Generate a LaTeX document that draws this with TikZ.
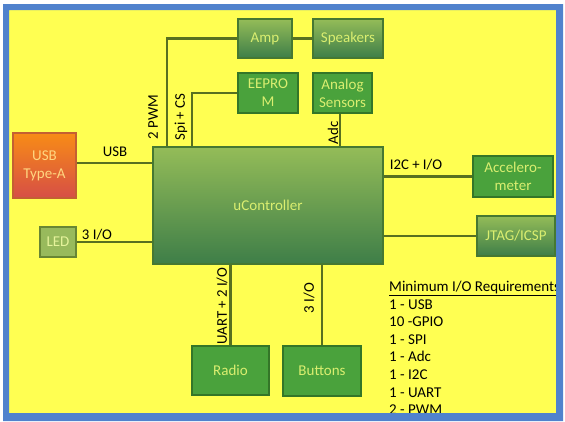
\documentclass[tikz,border=0pt]{standalone}
\usepackage{fontspec}
\setmainfont{Carlito}
\usetikzlibrary{shadings}
\definecolor{bgyellow}{RGB}{255,255,82}
\definecolor{frameblue}{RGB}{80,130,205}
\definecolor{wirecol}{RGB}{88,112,32}
\definecolor{solidgreen}{RGB}{74,162,60}
\definecolor{solidedge}{RGB}{52,118,40}
\definecolor{gradtop}{RGB}{148,188,88}
\definecolor{gradbot}{RGB}{62,126,72}
\definecolor{gradedge}{RGB}{70,120,50}
\definecolor{boxtext}{RGB}{218,238,112}
\definecolor{ledfill}{RGB}{152,186,92}
\definecolor{ledede}{RGB}{104,134,52}
\definecolor{usbtop}{RGB}{248,140,22}
\definecolor{usbbot}{RGB}{214,78,70}
\definecolor{usbedge}{RGB}{196,96,50}
\definecolor{usbtext}{RGB}{255,214,128}
\begin{document}
\begin{tikzpicture}[x=1pt,y=-1pt,
  box/.style={line width=1.2pt, align=center, text=boxtext, inner sep=0pt,
    font=\fontsize{15}{17.8}\selectfont},
  solidbox/.style={box, draw=solidedge, fill=solidgreen},
  gradbox/.style={box, draw=gradedge, top color=gradtop, bottom color=gradbot},
  wire/.style={draw=wirecol, line width=2.1pt},
  lbl/.style={font=\fontsize{14.8}{17}\selectfont, text=black, inner sep=0pt},
  req/.style={font=\fontsize{15}{17}\selectfont, text=black, inner sep=0pt, anchor=base west}]
\useasboundingbox (0,0) rectangle (565,421);
\fill[white] (0,0) rectangle (565,421);
\fill[bgyellow] (9,10) rectangle (556,413);

% boxes
\node[gradbox, minimum width=54pt, minimum height=39pt] (amp) at (265,38.5) {Amp};
\node[gradbox, minimum width=70pt, minimum height=39pt] (spk) at (348,38.5) {Speakers};
\node[solidbox, minimum width=60pt, minimum height=40pt] (eeprom) at (268,93) {EEPRO\\M};
\node[solidbox, minimum width=59pt, minimum height=40pt] (analog) at (342.5,93) {Analog\\Sensors};
\node[box, draw=usbedge, top color=usbtop, bottom color=usbbot, text=usbtext,
      minimum width=63pt, minimum height=65pt] (usb) at (44.5,165.5) {USB\\Type-A};
\node[box, draw=ledede, fill=ledfill, text=boxtext!70!white,
      minimum width=36pt, minimum height=30pt] (led) at (58,242) {LED};
\node[gradbox, minimum width=230pt, minimum height=117pt] (uc) at (268,205.5) {uController};
\node[solidbox, minimum width=80pt, minimum height=41pt] (accel) at (513,176.5) {Accelero-\\meter};
\node[gradbox, minimum width=78pt, minimum height=40pt] (jtag) at (516,236) {JTAG/ICSP};
\node[solidbox, minimum width=77pt, minimum height=49pt] (radio) at (230.5,370.5) {Radio};
\node[solidbox, minimum width=78pt, minimum height=50pt] (buttons) at (322,371) {Buttons};

% connectors
\coordinate (pwm) at (167,38.5);
\coordinate (spi) at (192,93);
\coordinate (adc) at (340,0);
\coordinate (usbw) at (0,163);
\draw[wire] (uc.north -| pwm) |- (amp.west);
\draw[wire] (amp.east) -- (spk.west);
\draw[wire] (uc.north -| spi) |- (eeprom.west);
\draw[wire] (analog.south -| adc) -- (uc.north -| adc);
\draw[wire] (usb.east |- usbw) -- (uc.west |- usbw);
\draw[wire] (led.east) -- (uc.west |- led.east);
\draw[wire] (uc.east |- accel.west) -- (accel.west);
\draw[wire] (uc.east |- jtag.west) -- (jtag.west);
\draw[wire] (uc.south -| radio.north) -- (radio.north);
\draw[wire] (uc.south -| buttons.north) -- (buttons.north);

% connector labels
\node[lbl] (lusb) at (115,152) {USB};
\node[lbl] (lled) at (97,235) {3 I/O};
\node[lbl] (li2c) at (416,165) {I2C + I/O};
\node[lbl, rotate=90] (lpwm) at (153,117) {2 PWM};
\node[lbl, rotate=90] (lspi) at (181,117) {Spi + CS};
\node[lbl, rotate=90] (ladc) at (333,133) {Adc};
\node[lbl, rotate=90] (luart) at (222,306) {UART + 2 I/O};
\node[lbl, rotate=90] (lbtn) at (309,298) {3 I/O};

% requirements list
\node[req] (r0) at (389,291.5) {\underline{Minimum I/O Requirements}};
\node[req] (r1) at (389,309.1) {1 - USB};
\node[req] (r2) at (389,326.7) {10 -GPIO};
\node[req] (r3) at (389,344.3) {1 - SPI};
\node[req] (r4) at (389,361.9) {1 - Adc};
\node[req] (r5) at (389,379.5) {1 - I2C};
\node[req] (r6) at (389,397.1) {1 - UART};
\node[req] (r7) at (389,414.7) {2 - PWM};

% frame
\fill[frameblue, even odd rule] (3,4) rectangle (563,421) (9,10) rectangle (556,413);
\end{tikzpicture}
\end{document}
